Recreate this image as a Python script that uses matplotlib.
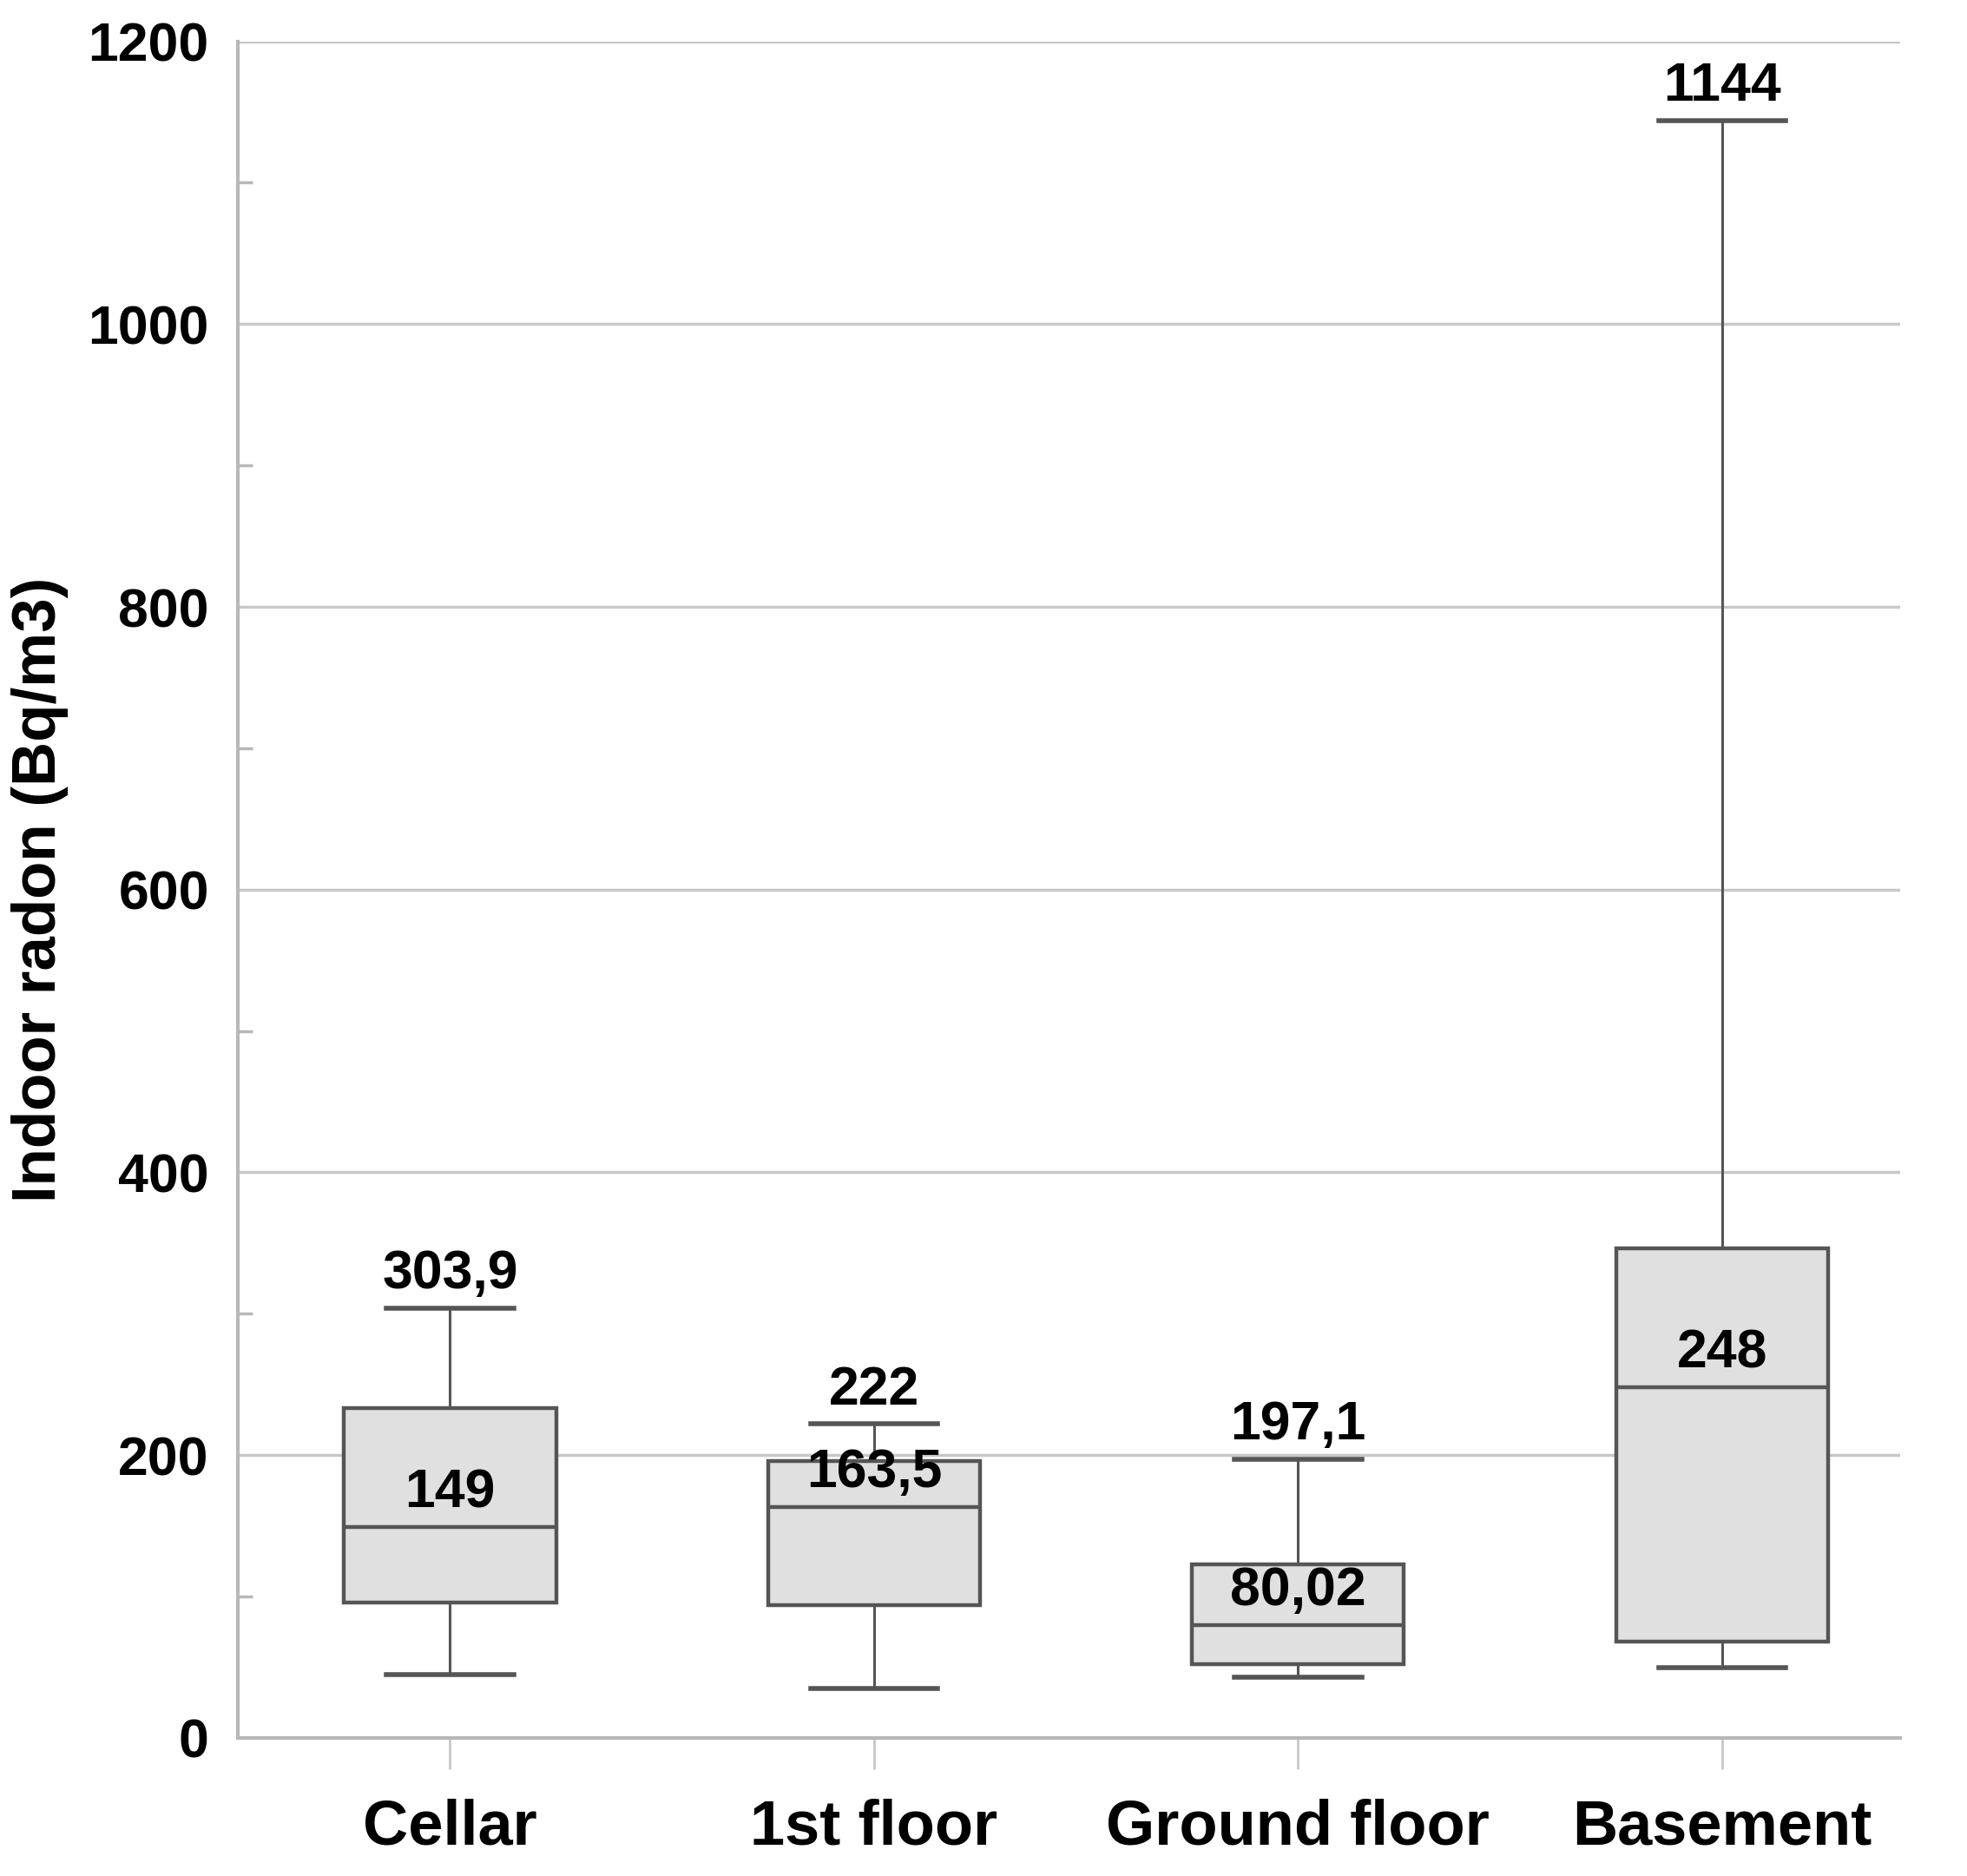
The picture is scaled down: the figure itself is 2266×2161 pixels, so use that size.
import matplotlib
matplotlib.use("Agg")
import matplotlib.pyplot as plt
from matplotlib.ticker import MultipleLocator

# values (Bq/m3)
floors = ["Cellar", "1st floor", "Ground floor", "Basement"]
whis_low = [45, 35, 43, 50]
q1 = [96, 94, 52, 68]
medians = [149, 163.5, 80.02, 248]
q3 = [233, 196, 123, 346]
whis_high = [303.9, 222, 197.1, 1144]

yticks = [0, 200, 400, 600, 800, 1000, 1200]

plt.rcParams['font.family'] = ['Liberation Sans', 'DejaVu Sans']
plt.rcParams['font.weight'] = 'bold'

fig = plt.figure(figsize=(22.66, 21.61), dpi=100)
ax = fig.add_axes([0.121, 0.0736, 0.845, 0.9044])

stats = []
for i in range(len(floors)):
    stats.append(dict(label=floors[i], whislo=whis_low[i], q1=q1[i], med=medians[i],
                      q3=q3[i], whishi=whis_high[i], fliers=[]))

edge = '#555555'
ax.bxp(stats, positions=range(len(floors)), widths=0.5, patch_artist=True,
       showfliers=False,
       boxprops=dict(facecolor='#e0e0e0', edgecolor=edge, linewidth=3.2),
       medianprops=dict(color=edge, linewidth=3.2),
       whiskerprops=dict(color=edge, linewidth=2.2),
       capprops=dict(color=edge, linewidth=4),
       capwidths=0.3, zorder=3)

# value labels: top whisker and median
def fmt(v):
    return f"{v:g}".replace('.', ',')

for i in range(len(floors)):
    for v in (whis_high[i], medians[i]):
        ax.annotate(fmt(v), (i, v), xytext=(0, 7), textcoords='offset points',
                    ha='center', va='bottom', fontsize=45, fontweight='bold',
                    zorder=5)

ax.set_xlim(-0.5, 3.42)
ax.set_ylim(0, 1200)
ax.set_yticks(yticks)
ax.yaxis.set_minor_locator(MultipleLocator(100))
ax.grid(axis='y', which='major', color='#c8c8c8', linewidth=2.5, zorder=0)
ax.set_axisbelow(True)

for s in ['top', 'right']:
    ax.spines[s].set_visible(False)
for s in ['left', 'bottom']:
    ax.spines[s].set_color('#b8b8b8')
    ax.spines[s].set_linewidth(3)

ax.tick_params(axis='y', which='major', length=0, pad=24, labelsize=45)
ax.tick_params(axis='y', which='minor', direction='in', length=12, width=2.5,
               color='#b8b8b8')
ax.tick_params(axis='x', direction='out', length=26, width=2, color='#c8c8c8',
               pad=24, labelsize=52)
ax.set_xticks(range(len(floors)))
ax.set_xticklabels(floors, fontweight='bold')
for lab in ax.get_yticklabels():
    lab.set_fontweight('bold')

ax.set_ylabel('Indoor radon (Bq/m3)', fontsize=51, fontweight='bold', labelpad=16)

fig.savefig('out.png', dpi=100, facecolor='white')
